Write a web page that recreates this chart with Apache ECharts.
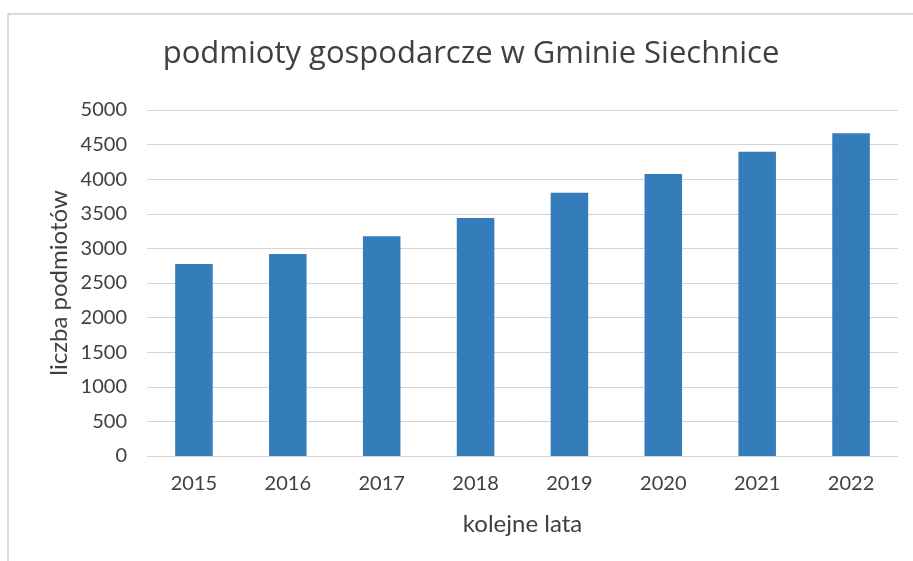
<!DOCTYPE html>
<html>
<head>
<meta charset="utf-8">
<script src="https://cdn.jsdelivr.net/npm/echarts@6/dist/echarts.min.js"></script>
<style>
    html, body { margin: 0; padding: 0; background: #fff; }
    #chart-box { width: 913px; height: 561px; }
</style>
</head>
<body>
<div id="chart-box"></div>
<script>
var years = ["2015", "2016", "2017", "2018", "2019", "2020", "2021", "2022"];
var counts = [2775, 2920, 3175, 3440, 3805, 4075, 4395, 4665];
var yMax = 5000;
var yStep = 500;

var fontFamily = "Lato,'Open Sans',sans-serif";
var textColor = "#404040";

var c = echarts.init(document.getElementById("chart-box"));

var option = {
    textStyle: {
        fontFamily: fontFamily
    },
    title: {
        text: "podmioty gospodarcze w Gminie Siechnice",
        left: 466,
        textAlign: "center",
        top: 34,
        textStyle: {
            fontSize: 31,
            fontWeight: "normal",
            color: textColor,
            fontFamily: "'Open Sans',sans-serif"
        }
    },
    graphic: [{
        type: "rect",
        shape: { x: 8, y: 14, width: 920, height: 560 },
        style: { fill: "none", stroke: "#c8cfcf", lineWidth: 1.5 },
        silent: true
    }],
    grid: {
        left: 147,
        right: 15,
        top: 110,
        bottom: 105
    },
    xAxis: {
        type: "category",
        data: years,
        name: "kolejne lata",
        nameLocation: "middle",
        nameGap: 56,
        nameMoveOverlap: false,
        nameTextStyle: {
            fontSize: 24,
            color: textColor
        },
        axisLine: { show: false },
        axisTick: { show: false },
        axisLabel: {
            fontSize: 20,
            color: textColor,
            margin: 18
        }
    },
    yAxis: {
        type: "value",
        min: 0,
        max: yMax,
        interval: yStep,
        name: "liczba podmiotów",
        nameLocation: "middle",
        nameGap: 76,
        nameMoveOverlap: false,
        nameTextStyle: {
            fontSize: 24,
            color: textColor,
            verticalAlign: "bottom"
        },
        axisLine: { show: false },
        axisTick: { show: false },
        axisLabel: {
            fontSize: 20,
            color: textColor,
            margin: 20,
            formatter: function (v) {
                return String(v);
            }
        },
        splitLine: {
            lineStyle: { color: "#d4d4d4", width: 1 }
        }
    },
    series: [{
        name: "podmioty",
        type: "bar",
        data: counts,
        barWidth: "40%",
        itemStyle: {
            color: "#357dba"
        }
    }],
    tooltip: { show: false },
    animation: false
};

c.setOption(option);
</script>
</body>
</html>
